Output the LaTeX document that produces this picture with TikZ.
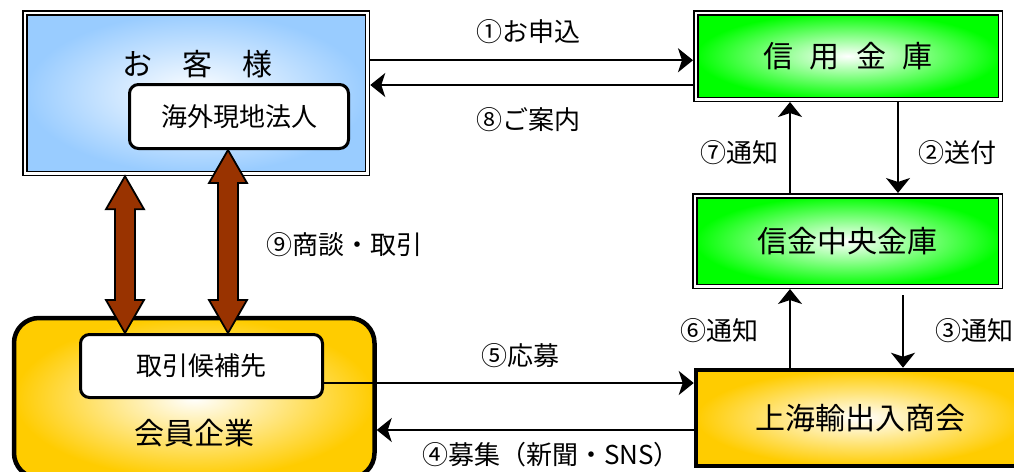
\documentclass[tikz,border=0pt]{standalone}
\usepackage{fontspec}
\setmainfont{Noto Sans CJK JP}
\usetikzlibrary{positioning,calc,arrows.meta}

\definecolor{skyfill}{HTML}{99CCFF}
\definecolor{limefill}{HTML}{00FF00}
\definecolor{goldfill}{HTML}{FFCC00}
\definecolor{tradebrown}{HTML}{993300}

\tikzset{
  dbox/.style={draw=black,line width=1.5pt,double=white,double distance=2.5pt,outer sep=2.75pt,inner sep=0pt},
  subbox/.style={draw=black,line width=3pt,fill=white,rounded corners=9pt,inner sep=0pt},
  flow/.style={line width=2pt,-{Stealth[length=15pt,width=24pt,inset=4pt]}},
  trade/.style={fill=tradebrown,draw=black,line width=1.8pt,line join=miter},
  lab/.style={font=\fontsize{26}{30}\selectfont},
  ttl/.style={font=\fontsize{30}{34}\selectfont},
}

% block arrow between two points on one vertical line
\newcommand{\tradearrow}[2]{%
  \filldraw[trade] let \p1=(#1), \p2=(#2) in
    (\p1) -- ++(19pt,-33pt) -- ++(-9pt,0pt) -- (\x1+10pt,\y2+33pt) -- ++(9pt,0pt)
    -- (\p2) -- ++(-19pt,33pt) -- ++(9pt,0pt) -- (\x1-10pt,\y1-33pt) -- ++(-9pt,0pt) -- cycle;}

\begin{document}
\begin{tikzpicture}[x=1pt,y=-1pt]
	\useasboundingbox (0,0) rectangle (1014,471);
	\clip (0,0) rectangle (1014,471);
	
	% customer
	\node[dbox,shade,inner color=white,outer color=skyfill,minimum width=342.5pt,minimum height=160.5pt] (cust) at (196.25,93.25) {};
	\node[ttl] (custname) at (197,64) {お　客　様};
	\node[subbox,lab,minimum width=219pt,minimum height=64pt] (overseas) at (239,116.5) {海外現地法人};
	
	% member company
	\node[draw=black,line width=4.5pt,rounded corners=25pt,shade,inner color=white,outer color=goldfill,minimum width=360.5pt,minimum height=160pt] (member) at (194.25,398) {};
	\node[ttl] (membername) at (194,433) {会員企業};
	\node[subbox,lab,minimum width=242pt,minimum height=63pt] (cand) at (201.5,366) {取引候補先};
	
	% banks and chamber
	\node[dbox,shade,inner color=white,outer color=limefill,minimum width=304.5pt,minimum height=86.5pt,ttl] (shinkin) at (848,56) {\raisebox{-5pt}{信\hspace{0.55em}用\hspace{0.55em}金\hspace{0.55em}庫}};
	\node[dbox,shade,inner color=white,outer color=limefill,minimum width=305.5pt,minimum height=90.5pt,ttl] (chuo) at (847.5,241) {信金中央金庫};
	\node[draw=black,line width=4.5pt,shade,inner color=white,outer color=goldfill,minimum width=328pt,minimum height=96pt,ttl] (shanghai) at (860,418) {上海輸出入商会};
	
	% flows
	\coordinate (p1) at ([yshift=33pt]cust.east);
	\draw[flow] (p1) -- (p1 -| shinkin.west);
	\node[lab] (l1) at (528,32) {①お申込};
	
	\coordinate (p8) at ([yshift=-29pt]shinkin.west);
	\draw[flow] (p8) -- (p8 -| cust.east);
	\node[lab] (l8) at (528,120) {⑧ご案内};
	
	\coordinate (p7) at ([xshift=-57.5pt]chuo.north);
	\draw[flow] (p7) -- (p7 |- shinkin.south);
	\node[lab] (l7) at (739,153) {⑦通知};
	
	\coordinate (p2) at ([xshift=50pt]shinkin.south);
	\draw[flow] (p2) -- (p2 |- chuo.north);
	\node[lab] (l2) at (957,153) {②送付};
	
	\coordinate (p6) at ([xshift=-70pt]shanghai.north);
	\draw[flow] (p6) -- (p6 |- chuo.south);
	\node[lab] (l6) at (719,331) {⑥通知};
	
	\coordinate (p3) at ([xshift=55.5pt,yshift=-6pt]chuo.south);
	\draw[flow] (p3) -- (p3 |- shanghai.north);
	\node[lab,anchor=west,inner sep=1pt] (l3) at (934,331) {③通知};
	
	\coordinate (p5) at ([yshift=-17pt]cand.east);
	\draw[flow] (p5) -- (p5 -| shanghai.west);
	\node[lab] (l5) at (520,356) {⑤応募};
	
	\coordinate (p4) at ([yshift=-12pt]shanghai.west);
	\draw[flow] (p4) -- (p4 -| member.east);
	\node[lab] (l4) at (551,455) {④募集（新聞・SNS）};
	
	% business talks
	\coordinate (lx) at (125,0);
	\coordinate (rx) at (228,0);
	\tradearrow{cust.south -| lx}{cand.north -| lx}
	\tradearrow{overseas.south -| rx}{cand.north -| rx}
	\node[lab] (l9) at (344,245) {⑨商談・取引};
\end{tikzpicture}
\end{document}
